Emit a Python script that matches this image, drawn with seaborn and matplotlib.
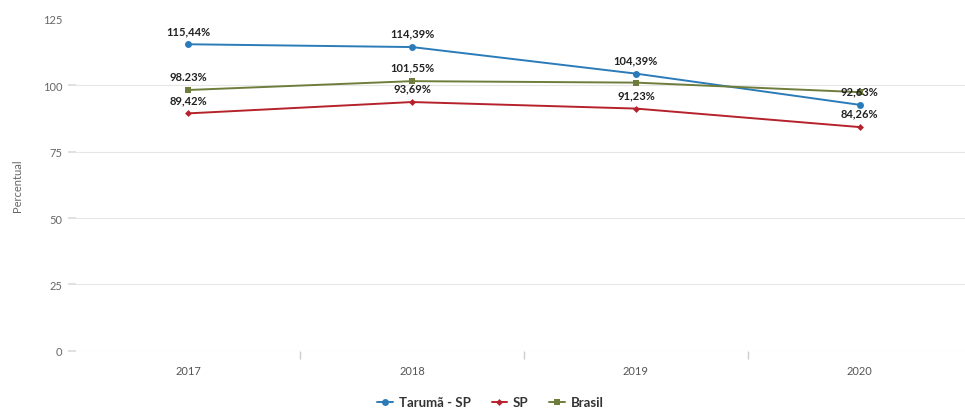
import seaborn as sns
import matplotlib.pyplot as plt
import pandas as pd

anos = ['2017', '2018', '2019', '2020']
taruma = [115.44, 114.39, 104.39, 92.63]
sp = [89.42, 93.69, 91.23, 84.26]
brasil = [98.23, 101.55, 101.0, 97.4]

rotulos_taruma = ['115,44%', '114,39%', '104,39%', '92,63%']
rotulos_sp = ['89,42%', '93,69%', '91,23%', '84,26%']
rotulos_brasil = ['98.23%', '101,55%', None, None]

series = [
    ('Tarumã - SP', taruma, rotulos_taruma, '#2b7bb9', 'o', 5),
    ('SP', sp, rotulos_sp, '#b5222b', 'D', 3.5),
    ('Brasil', brasil, rotulos_brasil, '#6f7d3c', 's', 5),
]

if __name__ == '__main__':
    sns.set_theme(style="white")
    plt.rcParams['font.family'] = ['Lato', 'DejaVu Sans']

    fig = plt.figure(figsize=(9.65, 4.14), dpi=100)
    graf = fig.add_axes([0.079, 0.15, 0.921, 0.802])

    pos = list(range(len(anos)))
    for nome, valores, rotulos, cor, marcador, tam in series:
        df = pd.DataFrame({'pos': pos, 'valor': valores})
        sns.lineplot(data=df, x='pos', y='valor', ax=graf, color=cor,
                     marker=marcador, markersize=tam, markeredgewidth=0,
                     linewidth=1.4, label=nome)
        # rótulos de dados acima de cada ponto
        for x, y, r in zip(pos, valores, rotulos):
            if r is None:
                continue
            graf.annotate(r, (x, y), xytext=(0, 6), textcoords='offset points',
                          ha='center', va='bottom', fontsize=8,
                          fontweight='bold', color='#222222')

    graf.set_xlim(-0.5, 3.47)
    graf.set_ylim(0, 125)
    graf.set_yticks([0, 25, 50, 75, 100, 125])
    graf.set_xticks(pos)
    graf.set_xticklabels(anos)
    graf.set_xticks([0.5, 1.5, 2.5], minor=True)
    graf.yaxis.grid(True, color='#e6e6e6', linewidth=0.8)
    graf.yaxis.get_gridlines()[-1].set_visible(False)
    for s in graf.spines.values():
        s.set_visible(False)
    graf.tick_params(axis='y', which='major', length=6, color='#dddddd',
                     labelsize=8, labelcolor='#666666', pad=4, left=True)
    graf.tick_params(axis='x', which='major', length=0, labelsize=8,
                     labelcolor='#555555', pad=10)
    graf.tick_params(axis='x', which='minor', length=6, color='#cccccc',
                     direction='out', bottom=True)
    graf.yaxis.get_major_ticks()[-1].tick1line.set_visible(False)
    graf.set_xlabel('')
    graf.set_ylabel('Percentual', fontsize=8, color='#666666', labelpad=14)

    graf.legend(loc='center', bbox_to_anchor=(0.466, -0.155), ncol=3,
                frameon=False, handlelength=1.2, handletextpad=0.4,
                columnspacing=1.6, prop={'size': 9.5, 'weight': 'bold'},
                labelcolor='#333333', borderpad=0.1)

    fig.savefig('out.png', dpi=100)
    plt.close(fig)
